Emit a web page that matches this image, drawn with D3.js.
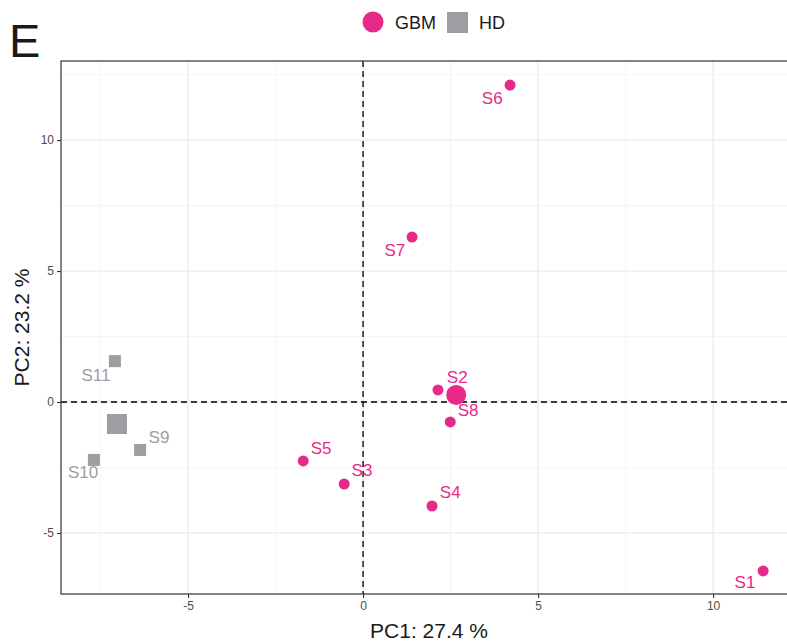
<!DOCTYPE html>
<html>
<head>
<meta charset="utf-8">
<script src="https://cdn.jsdelivr.net/npm/d3@7"></script>
<style>
  html, body { margin: 0; padding: 0; background: #fff; }
  svg { display: block; font-family: "Liberation Sans", Arial, Helvetica, sans-serif; }
</style>
</head>
<body>
<svg id="chart" width="787" height="642"></svg>
<script>
// ---- data ----
const samples = ["S1","S2","S3","S4","S5","S6","S7","S8","S9","S10","S11"];
const groups  = ["GBM","GBM","GBM","GBM","GBM","GBM","GBM","GBM","HD","HD","HD"];
const pc1     = [11.43, 2.14, -0.54, 1.97, -1.71, 4.20, 1.40, 2.49, -6.37, -7.69, -7.09];
const pc2     = [-6.45, 0.46, -3.13, -3.97, -2.25, 12.10, 6.30, -0.76, -1.83, -2.21, 1.56];
// repelled label anchor positions (data units)
const labelX  = [10.91, 2.69, -0.03, 2.49, -1.20, 3.69, 0.91, 3.00, -5.83, -8.00, -7.63];
const labelY  = [-6.91, 0.95, -2.63, -3.47, -1.76, 11.60, 5.80, -0.31, -1.34, -2.71, 1.03];
// group centroids
const centroidGroups = ["GBM","HD"];
const centroidPC1    = [2.66, -7.03];
const centroidPC2    = [0.27, -0.84];
// axis
const xTicks = [-5, 0, 5, 10];
const yTicks = [-5, 0, 5, 10];
const xMinor = [-7.5, -2.5, 2.5, 7.5];
const yMinor = [-2.5, 2.5, 7.5, 12.5];
const xDomain = [-8.63, 12.14];
const yDomain = [-7.33, 13.02];
const xTitle = "PC1: 27.4 %";
const yTitle = "PC2: 23.2 %";
const panelTag = "E";

// ---- styles ----
const colors = { GBM: "#E7298A", HD: "#9E9EA2" };
const svg = d3.select("#chart");
const margin = { left: 61, top: 61, right: -1, bottom: 48 };
const W = 787, H = 642;
const pw = W - margin.left - margin.right;
const ph = H - margin.top - margin.bottom;

const x = d3.scaleLinear().domain(xDomain).range([margin.left, margin.left + pw]);
const y = d3.scaleLinear().domain(yDomain).range([margin.top + ph, margin.top]);

const g = svg.append("g");

// grid
g.selectAll(".xminor").data(xMinor).join("line")
  .attr("x1", d => x(d)).attr("x2", d => x(d))
  .attr("y1", margin.top).attr("y2", margin.top + ph)
  .attr("stroke", "#f2f2f2").attr("stroke-width", 0.8);
g.selectAll(".yminor").data(yMinor).join("line")
  .attr("y1", d => y(d)).attr("y2", d => y(d))
  .attr("x1", margin.left).attr("x2", margin.left + pw)
  .attr("stroke", "#f2f2f2").attr("stroke-width", 0.8);
g.selectAll(".xmajor").data(xTicks).join("line")
  .attr("x1", d => x(d)).attr("x2", d => x(d))
  .attr("y1", margin.top).attr("y2", margin.top + ph)
  .attr("stroke", "#ebebeb").attr("stroke-width", 1.3);
g.selectAll(".ymajor").data(yTicks).join("line")
  .attr("y1", d => y(d)).attr("y2", d => y(d))
  .attr("x1", margin.left).attr("x2", margin.left + pw)
  .attr("stroke", "#ebebeb").attr("stroke-width", 1.3);

// dashed zero lines
g.append("line")
  .attr("x1", x(0)).attr("x2", x(0)).attr("y1", margin.top).attr("y2", margin.top + ph)
  .attr("stroke", "#000").attr("stroke-width", 1.3).attr("stroke-dasharray", "6,4");
g.append("line")
  .attr("y1", y(0)).attr("y2", y(0)).attr("x1", margin.left).attr("x2", margin.left + pw)
  .attr("stroke", "#000").attr("stroke-width", 1.3).attr("stroke-dasharray", "6,4");

// panel border
g.append("rect")
  .attr("x", margin.left).attr("y", margin.top).attr("width", pw).attr("height", ph)
  .attr("fill", "none").attr("stroke", "#333").attr("stroke-width", 1.2);

// axes
const xAxis = d3.axisBottom(x).tickValues(xTicks).tickSize(4).tickPadding(3).tickFormat(d3.format("d"));
const yAxis = d3.axisLeft(y).tickValues(yTicks).tickSize(4).tickPadding(3).tickFormat(d3.format("d"));
const gx = svg.append("g").attr("transform", `translate(0,${margin.top + ph})`).call(xAxis);
const gy = svg.append("g").attr("transform", `translate(${margin.left},0)`).call(yAxis);
[gx, gy].forEach(a => {
  a.select(".domain").remove();
  a.selectAll(".tick line").attr("stroke", "#333").attr("stroke-width", 1.1);
  a.selectAll(".tick text").attr("fill", "#4d4d4d").style("font-size", "12px")
    .style("font-family", '"Liberation Sans", Arial, sans-serif');
});
gx.selectAll(".tick text").text(d => d < 0 ? "-" + Math.abs(d) : d);
gy.selectAll(".tick text").text(d => d < 0 ? "-" + Math.abs(d) : d);

// points
const data = samples.map((s, i) => ({ s, grp: groups[i], x: pc1[i], y: pc2[i], lx: labelX[i], ly: labelY[i] }));
const pts = g.append("g");
data.forEach(d => {
  if (d.grp === "GBM") {
    pts.append("circle").attr("cx", x(d.x)).attr("cy", y(d.y)).attr("r", 5.5).attr("fill", colors.GBM);
  } else {
    pts.append("rect").attr("x", x(d.x) - 6).attr("y", y(d.y) - 6).attr("width", 12).attr("height", 12).attr("fill", colors.HD);
  }
});
centroidGroups.forEach((c, i) => {
  if (c === "GBM") {
    pts.append("circle").attr("cx", x(centroidPC1[i])).attr("cy", y(centroidPC2[i])).attr("r", 10).attr("fill", colors.GBM);
  } else {
    pts.append("rect").attr("x", x(centroidPC1[i]) - 10).attr("y", y(centroidPC2[i]) - 10)
      .attr("width", 20).attr("height", 20).attr("fill", colors.HD);
  }
});

// labels
g.append("g").selectAll("text").data(data).join("text")
  .attr("x", d => x(d.lx)).attr("y", d => y(d.ly))
  .attr("text-anchor", "middle").attr("dominant-baseline", "central")
  .attr("fill", d => colors[d.grp]).style("font-size", "17px")
  .text(d => d.s);

// axis titles
svg.append("text").attr("x", margin.left + (W - margin.left) / 2 + 5).attr("y", 638)
  .attr("text-anchor", "middle").attr("fill", "#1a1a1a").style("font-size", "21px").text(xTitle);
svg.append("text").attr("transform", `translate(29,${margin.top + ph / 2}) rotate(-90)`)
  .attr("text-anchor", "middle").attr("fill", "#1a1a1a").style("font-size", "21px").text(yTitle);

// tag
svg.append("text").attr("x", 9).attr("y", 57).attr("fill", "#1a1a1a").style("font-size", "47px").text(panelTag);

// legend
const leg = svg.append("g");
leg.append("circle").attr("cx", 373).attr("cy", 22).attr("r", 10.5).attr("fill", colors.GBM);
leg.append("text").attr("x", 395).attr("y", 29).attr("fill", "#1a1a1a").style("font-size", "18px").text("GBM");
leg.append("rect").attr("x", 447).attr("y", 12).attr("width", 21).attr("height", 21).attr("fill", colors.HD);
leg.append("text").attr("x", 479).attr("y", 29).attr("fill", "#1a1a1a").style("font-size", "18px").text("HD");
</script>
</body>
</html>
